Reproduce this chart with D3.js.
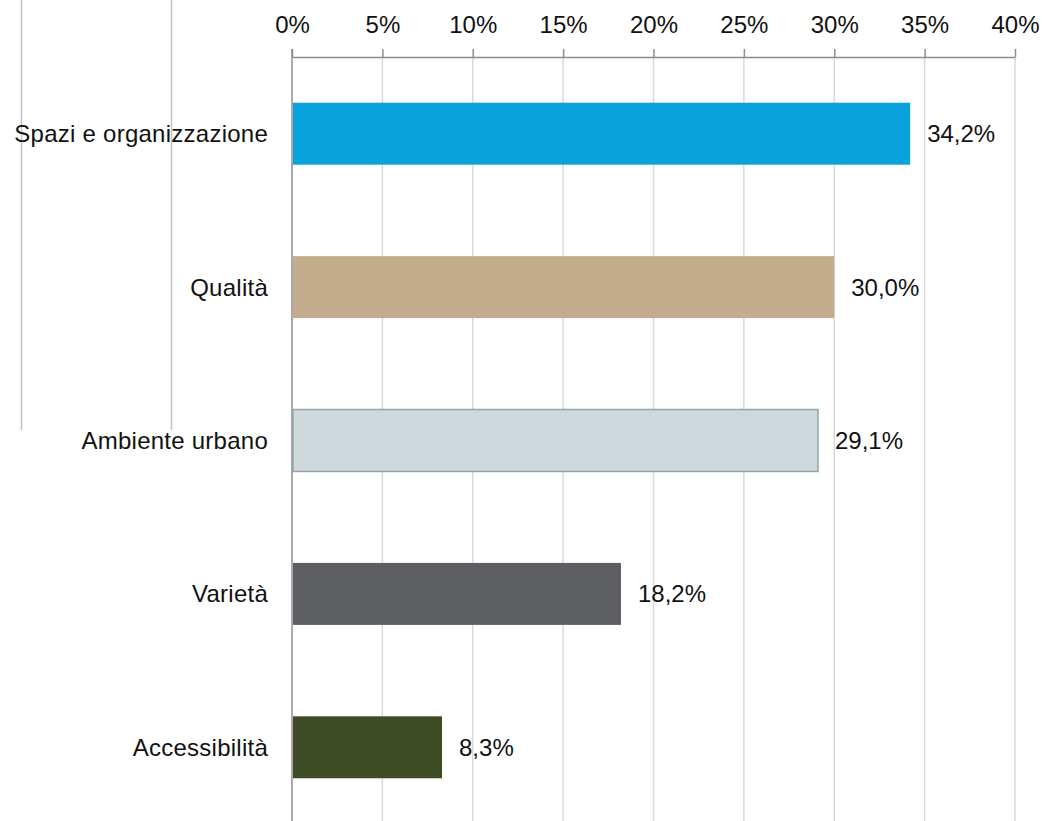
<!DOCTYPE html>
<html>
<head>
<meta charset="utf-8">
<script src="https://cdn.jsdelivr.net/npm/d3@7"></script>
<style>
  body { margin: 0; background: #fff; }
  svg { display: block; }
</style>
</head>
<body>
<div id="chart"></div>
<script>
// data
const categories = ["Spazi e organizzazione", "Qualità", "Ambiente urbano", "Varietà", "Accessibilità"];
const values = [34.2, 30.0, 29.1, 18.2, 8.3];
const colors = ["#0aa2da", "#c4ad8c", "#cfd8db", "#5d5e62", "#3d4c25"];
const strokes = ["none", "none", "#8fa7aa", "none", "none"];
const xTicks = [0, 5, 10, 15, 20, 25, 30, 35, 40];

const W = 1046, H = 821;
const margin = { top: 57, right: 31, bottom: 0, left: 292 };
const width = W - margin.left - margin.right;
const height = H - margin.top;
const font = "'Liberation Sans', Arial, sans-serif";

const svg = d3.select("#chart").append("svg")
    .attr("width", W)
    .attr("height", H);

// the two stray vertical rules on the left of the original picture
svg.append("line").attr("x1", 21.5).attr("x2", 21.5).attr("y1", 0).attr("y2", 430)
    .attr("stroke", "#c4c4c4").attr("stroke-width", 1.5);
svg.append("line").attr("x1", 171.5).attr("x2", 171.5).attr("y1", 0).attr("y2", 430)
    .attr("stroke", "#c4c4c4").attr("stroke-width", 1.5);

const g = svg.append("g")
    .attr("transform", `translate(${margin.left}, ${margin.top})`);

const x = d3.scaleLinear().domain([0, 40]).range([0, width]);
const y = d3.scaleBand()
    .domain(categories)
    .range([0, 767])
    .paddingInner(0.596)
    .paddingOuter(0.298);

// gridlines
g.selectAll(".grid")
    .data(xTicks.slice(1))
    .enter()
    .append("line")
    .attr("class", "grid")
    .attr("x1", d => x(d)).attr("x2", d => x(d))
    .attr("y1", 0).attr("y2", height)
    .attr("stroke", "#d9d9d9")
    .attr("stroke-width", 1.5);

// top axis
const xAxis = d3.axisTop(x)
    .tickValues(xTicks)
    .tickFormat(d => d + "%")
    .tickSize(8)
    .tickSizeOuter(0)
    .tickPadding(16);

const axisG = g.append("g").call(xAxis);
axisG.select(".domain").attr("stroke", "#8c8c8c").attr("stroke-width", 1.5);
axisG.selectAll(".tick line").attr("stroke", "#8c8c8c").attr("stroke-width", 1.5);
axisG.selectAll(".tick text")
    .style("font-family", font)
    .style("font-size", "24px")
    .attr("fill", "#111");

// zero line (vertical axis)
g.append("line")
    .attr("x1", 0).attr("x2", 0)
    .attr("y1", -8).attr("y2", height)
    .attr("stroke", "#8c8c8c")
    .attr("stroke-width", 1.5);

// bars
g.selectAll(".bar")
    .data(categories)
    .enter()
    .append("rect")
    .attr("class", "bar")
    .attr("x", 1)
    .attr("y", d => y(d))
    .attr("width", (d, i) => x(values[i]) - 1)
    .attr("height", y.bandwidth())
    .attr("fill", (d, i) => colors[i])
    .attr("stroke", (d, i) => strokes[i])
    .attr("stroke-width", 1.5);

// category labels
g.selectAll(".cat")
    .data(categories)
    .enter()
    .append("text")
    .attr("class", "cat")
    .text(d => d)
    .attr("x", -24)
    .attr("y", d => y(d) + y.bandwidth() / 2)
    .attr("dy", "0.35em")
    .style("font-family", font)
    .style("font-size", "24px")
    .style("letter-spacing", "0.25px")
    .style("text-anchor", "end")
    .attr("fill", "#111");

// value labels
g.selectAll(".val")
    .data(categories)
    .enter()
    .append("text")
    .attr("class", "val")
    .text((d, i) => values[i].toFixed(1).replace(".", ",") + "%")
    .attr("x", (d, i) => x(values[i]) + 17)
    .attr("y", d => y(d) + y.bandwidth() / 2)
    .attr("dy", "0.35em")
    .style("font-family", font)
    .style("font-size", "24px")
    .attr("fill", "#111");
</script>
</body>
</html>
